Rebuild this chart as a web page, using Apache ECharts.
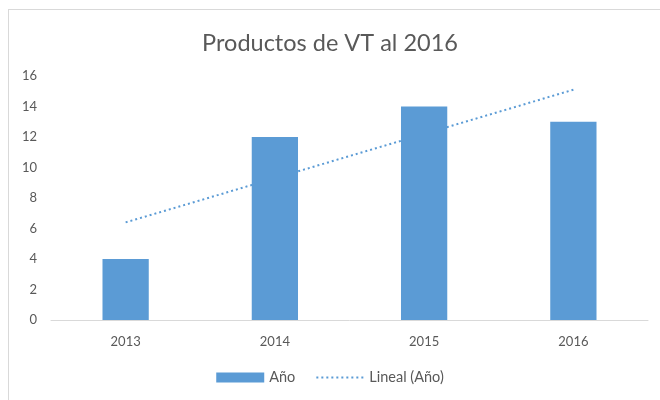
<!DOCTYPE html>
<html>
<head>
<meta charset="utf-8">
<script src="https://cdn.jsdelivr.net/npm/echarts@6/dist/echarts.min.js"></script>
<style>
  html, body { margin: 0; padding: 0; background: #fff; }
  #chart { width: 660px; height: 400px; }
</style>
</head>
<body>
<div id="chart"></div>
<script>
// values
var years = ['2013', '2014', '2015', '2016'];
var productos = [4, 12, 14, 13];
var tendencia = [6.4, 9.3, 12.2, 15.1]; // Excel linear trendline, read at each year
var yTicks = [0, 2, 4, 6, 8, 10, 12, 14, 16];

var font = 'Lato, "Open Sans", sans-serif';
var azul = '#5B9BD5';
var gris = '#595959';

var myChart = echarts.init(document.getElementById('chart'));
var option = {
  animation: false,
  textStyle: { fontFamily: font },
  title: {
    text: 'Productos de VT al 2016',
    left: 'center',
    top: 26,
    textStyle: { fontFamily: font, fontSize: 23.5, fontWeight: 'normal', color: gris }
  },
  graphic: [
    { type: 'line', shape: { x1: 8, y1: 9.5, x2: 660, y2: 9.5 }, style: { stroke: '#D9D9D9', lineWidth: 1 } },
    { type: 'line', shape: { x1: 8.5, y1: 9, x2: 8.5, y2: 400 }, style: { stroke: '#D9D9D9', lineWidth: 1 } }
  ],
  legend: {
    bottom: 10,
    left: 'center',
    itemGap: 20,
    itemWidth: 48,
    itemHeight: 10,
    textStyle: { fontFamily: font, fontSize: 14.5, color: gris },
    data: [
      { name: 'Año', icon: 'rect' },
      { name: 'Lineal (Año)', itemStyle: { opacity: 0 } }
    ]
  },
  grid: { left: 51, right: 12, top: 76, bottom: 80 },
  xAxis: {
    type: 'category',
    data: years,
    axisLine: { lineStyle: { color: '#D9D9D9' } },
    axisTick: { show: false },
    axisLabel: { fontFamily: font, fontSize: 13, color: gris, margin: 15 }
  },
  yAxis: {
    type: 'value',
    min: yTicks[0],
    max: yTicks[yTicks.length - 1],
    interval: 2,
    splitLine: { show: false },
    axisLine: { show: false },
    axisTick: { show: false },
    axisLabel: { fontFamily: font, fontSize: 13, color: gris, margin: 14 }
  },
  series: [
    {
      name: 'Año',
      type: 'bar',
      data: productos,
      barWidth: '31%',
      itemStyle: { color: azul },
      z: 3
    },
    {
      name: 'Lineal (Año)',
      type: 'line',
      data: tendencia,
      symbol: 'none',
      lineStyle: { color: azul, width: 2, type: [2, 3] },
      itemStyle: { color: azul },
      z: 1
    }
  ]
};
myChart.setOption(option);
</script>
</body>
</html>
